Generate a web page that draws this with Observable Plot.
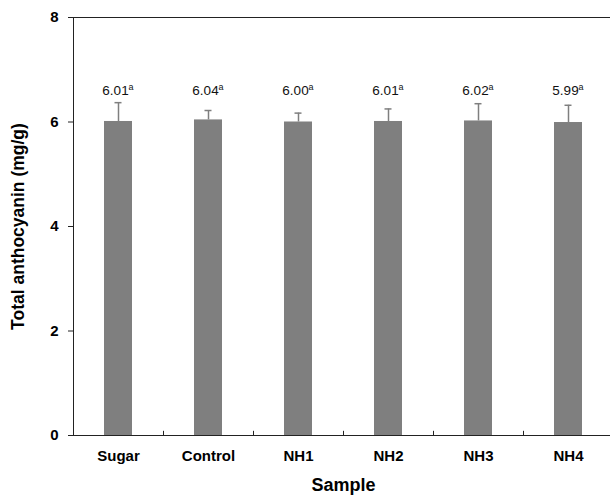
<!DOCTYPE html>
<html><head><meta charset="utf-8">
<script src="https://cdn.jsdelivr.net/npm/d3@7"></script>
<script src="https://cdn.jsdelivr.net/npm/@observablehq/plot@0.6"></script>
<style>body{margin:0;background:#fff;overflow:hidden} svg{display:block}</style>
</head><body><div id="chart"></div>
<script>
const samples = ["Sugar", "Control", "NH1", "NH2", "NH3", "NH4"];
const means = [6.01, 6.04, 6.00, 6.01, 6.02, 5.99];
const sds = [0.36, 0.18, 0.17, 0.24, 0.33, 0.33];
const letters = ["a", "a", "a", "a", "a", "a"];
const yTicks = [0, 2, 4, 6, 8];

const data = samples.map((s, i) => ({sample: s, mean: means[i], sd: sds[i], letter: letters[i]}));
const font = '"Liberation Sans", Arial, sans-serif';
const grey = "#7f7f7f";

const chart = Plot.plot({
  width: 610, height: 499,
  marginLeft: 73, marginRight: -3, marginTop: 17, marginBottom: 64,
  style: {fontFamily: font, background: "#fff", color: "#000"},
  x: {domain: samples, paddingInner: 0.69, paddingOuter: 0.345, label: null},
  y: {domain: [0, 8], label: null},
  marks: [
    Plot.barY(data, {x: "sample", y: "mean", fill: grey}),
    Plot.ruleX(data, {x: "sample", y1: "mean", y2: d => d.mean + d.sd, stroke: grey, strokeWidth: 1.5}),
    Plot.tickY(data, {x: "sample", y: d => d.mean + d.sd, stroke: grey, strokeWidth: 1.5, insetLeft: 10.5, insetRight: 10.5}),
    Plot.text(data, {x: "sample", y: () => 6.6, text: d => d.mean.toFixed(2), fontSize: 13.5, dx: -3, fill: "#111"}),
    Plot.text(data, {x: "sample", y: () => 6.6, text: "letter", fontSize: 9, dx: 10, dy: -4, textAnchor: "start", fill: "#111"}),
    Plot.frame({stroke: "#222"}),
    Plot.ruleX(samples.slice(0, -1), {x: d => d, y1: () => 0, y2: () => 0.08, dx: 45, stroke: "#222"}),
    Plot.axisY({ticks: yTicks, tickSize: 5, tickPadding: 10, fontWeight: "bold", fontSize: 15, label: null, stroke: "#222"}),
    Plot.axisX({tickSize: 0, tickPadding: 15, fontWeight: "bold", fontSize: 15, label: null}),
    Plot.text(["Sample"], {frameAnchor: "bottom", dy: 55, text: d => d, fontWeight: "bold", fontSize: 18, textAnchor: "middle"}),
    Plot.text(["Total anthocyanin (mg/g)"], {frameAnchor: "left", dx: -55, rotate: -90, text: d => d, fontWeight: "bold", fontSize: 17.5, textAnchor: "middle"})
  ]
});
document.getElementById("chart").append(chart);
</script>
</body></html>
